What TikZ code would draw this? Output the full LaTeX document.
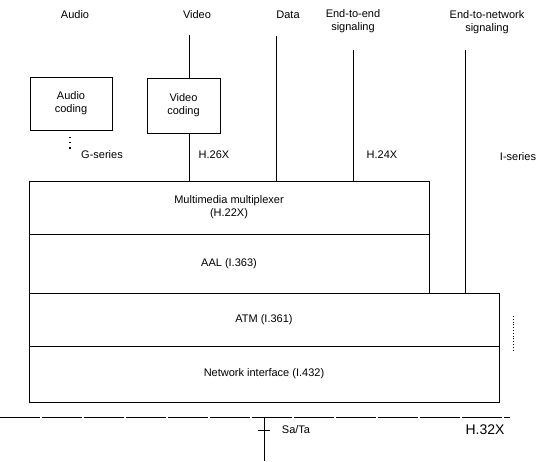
\documentclass[tikz,border=0pt]{standalone}
\usepackage{fontspec}
\setmainfont{Liberation Sans}
\usetikzlibrary{positioning}

\begin{document}
\begin{tikzpicture}[
    x=1pt, y=1pt,
    font=\fontsize{11}{13}\selectfont,
    capa/.style={draw, line width=0.8pt, align=center,
                 inner sep=0pt, outer sep=0pt},
    codif/.style={draw, line width=0.8pt, align=center, inner sep=0pt},
    enlace/.style={line width=0.8pt},
    etiq/.style={align=center, inner sep=0pt},
    node distance=0pt
  ]
    \useasboundingbox (0,0) rectangle (548,461);
    % top labels
    \node[etiq] (audio) at (75,446) {Audio};
    \node[etiq] (video) at (197,446) {Video};
    \node[etiq] (datos) at (288,446) {Data};
    \node[etiq] (e2e) at (353,440) {End-to-end\\signaling};
    \node[etiq] (e2n) at (487,439) {End-to-network\\signaling};
    % coders
    \node[codif, minimum width=82, minimum height=53] (audiocod) at (71,357.5)
      {Audio\\coding};
    \node[codif, minimum width=73, minimum height=55] (videocod) at (183.5,355.5)
      {Video\\coding};
    % protocol stack
    \node[capa, minimum width=400, minimum height=53] (mux) at (229,253.5)
      {Multimedia multiplexer\\(H.22X)};
    \node[capa, minimum width=400, minimum height=59, below=of mux] (aal)
      {AAL (I.363)};
    \node[capa, minimum width=470, minimum height=53,
          below right=0pt and 0pt of aal.south west] (atm) {ATM (I.361)};
    \node[capa, minimum width=470, minimum height=56, below=of atm] (ni)
      {Network interface (I.432)};
    % vertical lines
    \coordinate (vtop) at (189,426);
    \coordinate (dtop) at (276,425);
    \coordinate (etop) at (353,411);
    \coordinate (ntop) at (465,411);
    \draw[enlace] (vtop) -- (vtop |- videocod.north);
    \draw[enlace] (vtop |- videocod.south) -- (vtop |- mux.north);
    \draw[enlace] (dtop) -- (dtop |- mux.north);
    \draw[enlace] (etop) -- (etop |- mux.north);
    \draw[enlace] (ntop) -- (ntop |- atm.north);
    % series labels
    \coordinate (puntos1) at (70,324);
    \coordinate (puntos2) at (70,311);
    \draw[line width=1.2pt, dash pattern=on 1.2pt off 4pt] (puntos1) -- (puntos2);
    \node[etiq] (gser) at (102,306) {G-series};
    \node[etiq] (h26) at (214,306) {H.26X};
    \node[etiq] (h24) at (382,306) {H.24X};
    \node[etiq] (iser) at (518,304) {I-series};
    % terminal boundary
    \coordinate (limL) at (0,44);
    \coordinate (limR) at (510,44);
    \draw[line width=0.7pt, dash pattern=on 40pt off 2pt] (limL) -- (limR);
    \coordinate (satop) at (ni.south |- limL);
    \coordinate (sabot) at (ni.south |- 0,0);
    \coordinate (tick) at (ni.south |- 0,31);
    \draw[enlace] (satop) -- (sabot);
    \draw[enlace] ([xshift=-6pt]tick) -- ([xshift=6pt]tick);
    \node[etiq] (sata) at (296,31) {Sa/Ta};
    \node[etiq, font=\fontsize{14}{16}\selectfont] (h32) at (485,31) {H.32X};
    \coordinate (puntA) at (513,145);
    \coordinate (puntB) at (513,109);
    \draw[dotted, line width=0.8pt] (puntA) -- (puntB);
  \end{tikzpicture}
\end{document}
